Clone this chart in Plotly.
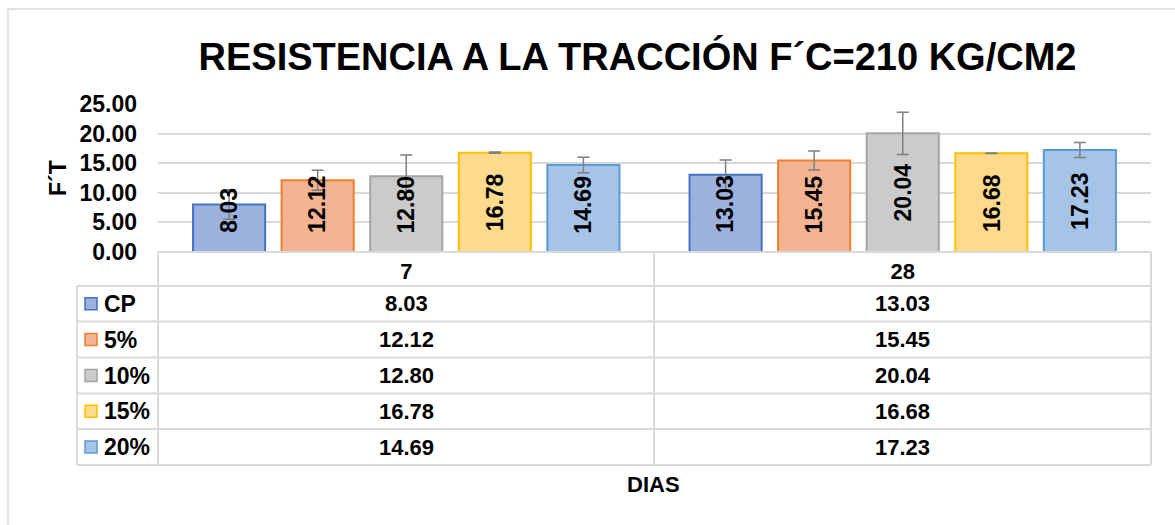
import plotly.graph_objects as go

# ---------------- data ----------------
categories = ["7", "28"]
series_names = ["CP", "5%", "10%", "15%", "20%"]
values = {
    "CP": [8.03, 13.03],
    "5%": [12.12, 15.45],
    "10%": [12.80, 20.04],
    "15%": [16.78, 16.68],
    "20%": [14.69, 17.23],
}
errors = {
    "CP": [2.5, 2.5],
    "5%": [1.7, 1.6],
    "10%": [3.6, 3.55],
    "15%": [0.1, 0.05],
    "20%": [1.3, 1.25],
}
fill_colors = {"CP": "#9DB1DF", "5%": "#F6B391", "10%": "#CBCBCB", "15%": "#FFDA8C", "20%": "#A6C4E7"}
line_colors = {"CP": "#4472C4", "5%": "#ED7D31", "10%": "#A5A5A5", "15%": "#FFC000", "20%": "#5B9BD5"}
y_ticks = [0, 5, 10, 15, 20, 25]
title_text = "RESISTENCIA A LA TRACCIÓN F´C=210 KG/CM2"
y_title = "F´T"
x_title = "DIAS"

# ---------------- layout geometry (pixels) ----------------
W, H = 1175, 525
PL, PR, PT, PB = 158, 1151, 104, 252  # plot area
Y_MAX = 25
FONT = "Liberation Sans"
GRID = "#D9D9D9"
BARGAP, BARGROUPGAP = 0.108, 0.186
LABEL_SIZE = 23


def px_x(px):
    return (px - PL) / (PR - PL)


def px_y(py):
    return (PB - py) / (PB - PT)


px_per_unit = (PB - PT) / Y_MAX

fig = go.Figure()
for name in series_names:
    fig.add_trace(go.Bar(
        name=name,
        x=categories,
        y=values[name],
        marker=dict(color=fill_colors[name], line=dict(color=line_colors[name], width=2)),
        error_y=dict(type="data", array=errors[name], color="#7F7F7F", thickness=1.5, width=6),
        showlegend=False,
        hovertemplate="%{x}: %{y:.2f}<extra>" + name + "</extra>",
    ))

fig.update_layout(
    width=W, height=H,
    margin=dict(l=PL, r=W - PR, t=PT, b=H - PB, pad=0),
    plot_bgcolor="white", paper_bgcolor="white",
    barmode="group", bargap=BARGAP, bargroupgap=BARGROUPGAP,
    font=dict(family=FONT, color="black"),
    title=dict(text=title_text, x=(197 + 1078) / 2 / W, xanchor="center",
               y=1 - 57 / H, yanchor="middle",
               font=dict(family=FONT, size=38, color="black", weight="bold")),
    xaxis=dict(type="category", categoryorder="array", categoryarray=categories,
               range=[-0.5, len(categories) - 0.5], autorange=False,
               showgrid=False, showline=False, ticks="",
               tickfont=dict(family=FONT, size=22, color="black", weight="bold"),
               ticklabelstandoff=4),
    yaxis=dict(range=[0, Y_MAX], tickvals=y_ticks, tickformat=".2f", showgrid=True,
               gridcolor=GRID, gridwidth=1.5, zeroline=False, showline=False, ticks="",
               tickfont=dict(family=FONT, size=23, color="black", weight="bold"),
               ticklabelstandoff=20),
)

shapes = []
annotations = []

# data labels (rotated, centred in bar but kept clear of the axis like Excel does)
n = len(series_names)
slot = (1 - BARGAP) / n
for i, name in enumerate(series_names):
    for j, v in enumerate(values[name]):
        txt = f"{v:.2f}"
        digits = sum(c.isdigit() for c in txt)
        half_len_px = LABEL_SIZE * (0.556 * digits + 0.278) / 2
        y_lab = max(v / 2, (19 + half_len_px) / px_per_unit)
        annotations.append(dict(text=txt, xref="x", yref="y", x=j + (i - (n - 1) / 2) * slot,
                                y=y_lab, textangle=-90, showarrow=False,
                                xanchor="center", yanchor="middle",
                                font=dict(family=FONT, size=LABEL_SIZE, color="black",
                                          weight="bold")))

line = dict(color=GRID, width=2)
# outer chart border
shapes.append(dict(type="rect", xref="paper", yref="paper",
                   x0=px_x(8), x1=px_x(W + 10), y0=px_y(9), y1=px_y(H + 10),
                   line=dict(color=GRID, width=1.5), layer="below"))

# data table geometry
row_edges = [252, 286, 321.5, 357.5, 393.5, 429, 465]
col_x = [77, 158, 654, 1151]
shapes.append(dict(type="line", xref="paper", yref="paper", x0=px_x(158), x1=px_x(1151),
                   y0=px_y(252), y1=px_y(252), line=line))
for ry in row_edges[1:]:
    shapes.append(dict(type="line", xref="paper", yref="paper", x0=px_x(77), x1=px_x(1151),
                       y0=px_y(ry), y1=px_y(ry), line=line))
for cx in col_x[1:]:
    shapes.append(dict(type="line", xref="paper", yref="paper", x0=px_x(cx), x1=px_x(cx),
                       y0=px_y(252), y1=px_y(465), line=line))
shapes.append(dict(type="line", xref="paper", yref="paper", x0=px_x(77), x1=px_x(77),
                   y0=px_y(286), y1=px_y(465), line=line))

for i, name in enumerate(series_names):
    yc = (row_edges[i + 1] + row_edges[i + 2]) / 2
    shapes.append(dict(type="rect", xref="paper", yref="paper",
                       x0=px_x(85), x1=px_x(97), y0=px_y(yc - 6), y1=px_y(yc + 6),
                       fillcolor=fill_colors[name], line=dict(color=line_colors[name], width=1.5)))
    annotations.append(dict(text=name, xref="paper", yref="paper", x=px_x(102), y=px_y(yc),
                            xanchor="left", yanchor="middle", showarrow=False,
                            font=dict(family=FONT, size=23, color="black", weight="bold")))
    for j, cat in enumerate(categories):
        annotations.append(dict(text=f"{values[name][j]:.2f}", xref="x", yref="paper", x=j,
                                y=px_y(yc), xanchor="center", yanchor="middle", showarrow=False,
                                font=dict(family=FONT, size=22, color="black", weight="bold")))

annotations.append(dict(text=x_title, xref="paper", yref="paper", x=px_x(653), y=px_y(484),
                        xanchor="center", yanchor="middle", showarrow=False,
                        font=dict(family=FONT, size=22, color="black", weight="bold")))
annotations.append(dict(text=y_title, xref="paper", yref="paper", x=px_x(58), y=px_y(178),
                        xanchor="center", yanchor="middle", showarrow=False, textangle=-90,
                        font=dict(family=FONT, size=23, color="black", weight="bold")))

fig.update_layout(shapes=shapes, annotations=annotations)
fig.write_html("out.html", config={"displayModeBar": False},
               post_script="document.body.style.margin='0';")
